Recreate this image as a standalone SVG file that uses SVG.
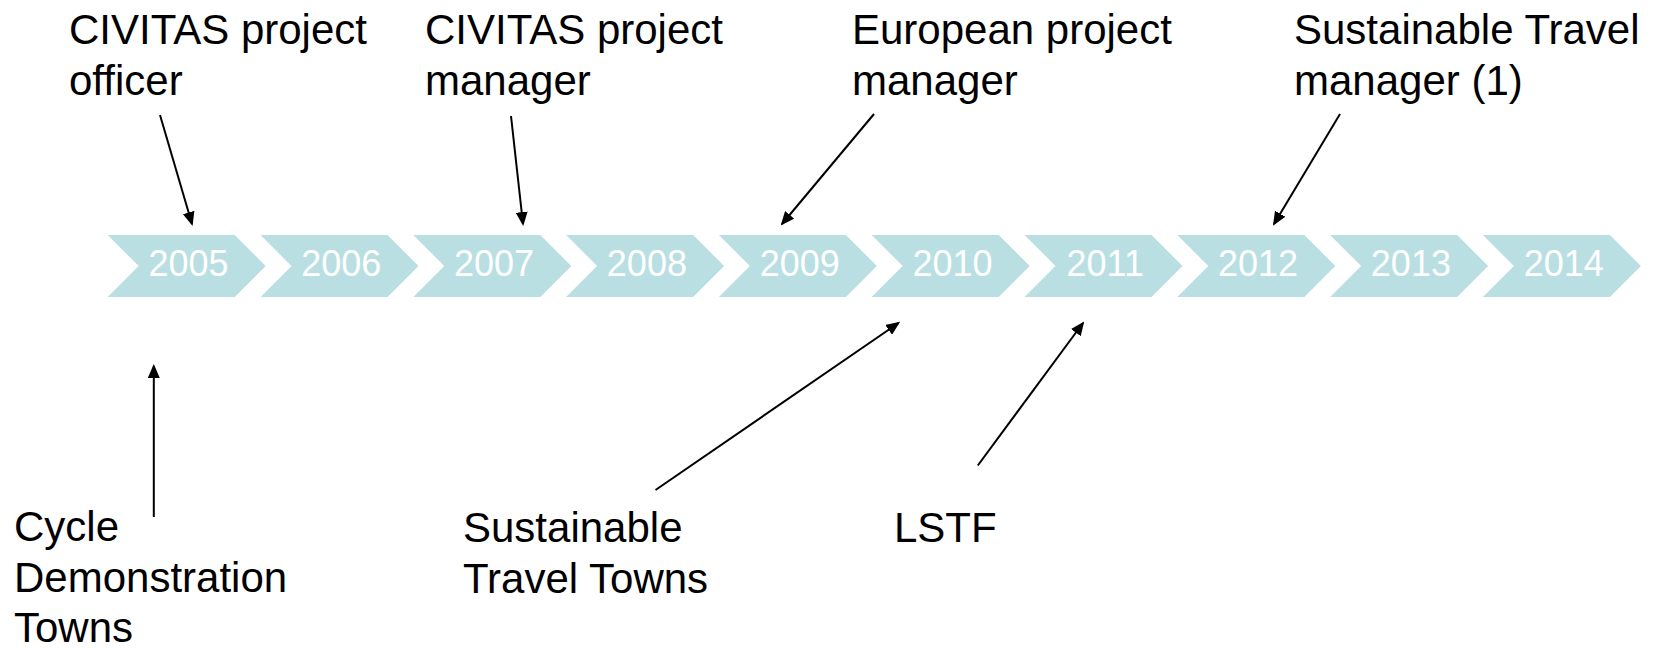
<svg xmlns="http://www.w3.org/2000/svg" width="1663" height="648" viewBox="0 0 1663 648">
<style>
.chev{fill:#B9DFE3;}
.yr{font-family:"Liberation Sans",Arial,sans-serif;font-size:36px;fill:#FFFFFF;text-anchor:middle;}
.lbl{font-family:"Liberation Sans",Arial,sans-serif;font-size:42px;fill:#000000;}
.conn line{stroke:#000000;stroke-width:2;marker-end:url(#ah);}
</style>
<defs>
<polygon id="chevShape" points="0,0 127,0 158,31 127,62 0,62 31,31"/>
<marker id="ah" markerUnits="userSpaceOnUse" markerWidth="14" markerHeight="12" refX="12" refY="6" orient="auto">
<path d="M0,0 L14,6 L0,12 z" fill="#000000"/>
</marker>
</defs>
<rect width="1663" height="648" fill="#FFFFFF"/>
<g id="timeline">
<g id="y2005"><use href="#chevShape" class="chev" x="107.7" y="235"/><text class="yr" x="188.5" y="276">2005</text></g>
<g id="y2006"><use href="#chevShape" class="chev" x="260.5" y="235"/><text class="yr" x="341.3" y="276">2006</text></g>
<g id="y2007"><use href="#chevShape" class="chev" x="413.3" y="235"/><text class="yr" x="494.1" y="276">2007</text></g>
<g id="y2008"><use href="#chevShape" class="chev" x="566.1" y="235"/><text class="yr" x="646.9" y="276">2008</text></g>
<g id="y2009"><use href="#chevShape" class="chev" x="718.9" y="235"/><text class="yr" x="799.7" y="276">2009</text></g>
<g id="y2010"><use href="#chevShape" class="chev" x="871.7" y="235"/><text class="yr" x="952.5" y="276">2010</text></g>
<g id="y2011"><use href="#chevShape" class="chev" x="1024.5" y="235"/><text class="yr" x="1105.3" y="276">2011</text></g>
<g id="y2012"><use href="#chevShape" class="chev" x="1177.3" y="235"/><text class="yr" x="1258.1" y="276">2012</text></g>
<g id="y2013"><use href="#chevShape" class="chev" x="1330.1" y="235"/><text class="yr" x="1410.9" y="276">2013</text></g>
<g id="y2014"><use href="#chevShape" class="chev" x="1482.9" y="235"/><text class="yr" x="1563.7" y="276">2014</text></g>
</g>
<g id="label-civitas-officer"><text class="lbl" x="69" y="44">CIVITAS project</text><text class="lbl" x="69" y="95">officer</text></g>
<g id="label-civitas-manager"><text class="lbl" x="425" y="44">CIVITAS project</text><text class="lbl" x="425" y="95">manager</text></g>
<g id="label-european"><text class="lbl" x="852" y="44">European project</text><text class="lbl" x="852" y="95">manager</text></g>
<g id="label-st-manager"><text class="lbl" x="1294" y="44">Sustainable Travel</text><text class="lbl" x="1294" y="95">manager (1)</text></g>
<g id="label-cdt"><text class="lbl" x="14" y="541">Cycle</text><text class="lbl" x="14" y="592">Demonstration</text><text class="lbl" x="14" y="642">Towns</text></g>
<g id="label-stt"><text class="lbl" x="463" y="542">Sustainable</text><text class="lbl" x="463" y="593">Travel Towns</text></g>
<g id="label-lstf"><text class="lbl" x="894" y="542">LSTF</text></g>
<g id="connectors" class="conn">
<line x1="160" y1="115" x2="192" y2="224"/>
<line x1="511" y1="116" x2="523" y2="224"/>
<line x1="874" y1="114" x2="782" y2="224"/>
<line x1="1340" y1="114" x2="1274" y2="224"/>
<line x1="153.8" y1="517" x2="153.8" y2="366"/>
<line x1="655.5" y1="490" x2="898.5" y2="323"/>
<line x1="977.8" y1="465.5" x2="1083" y2="323"/>
</g>
</svg>
